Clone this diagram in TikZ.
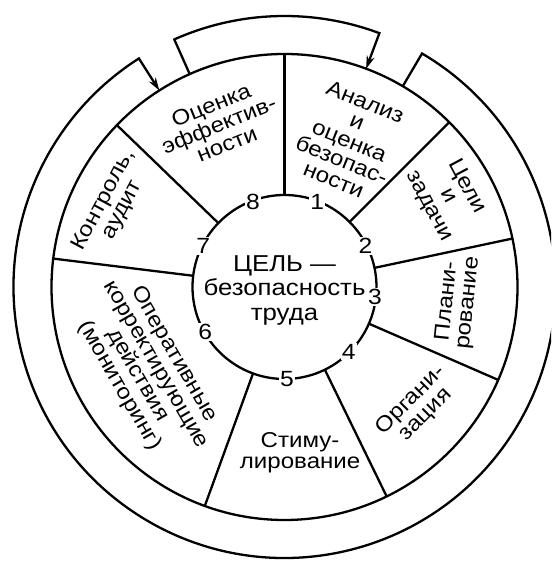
\documentclass[tikz,border=0pt]{standalone}
\usepackage{fontspec}
\setmainfont[FakeStretch=1.12]{Liberation Sans}
\usetikzlibrary{arrows.meta}
\begin{document}
\begin{tikzpicture}[x=1pt,y=1pt,
  ln/.style={line width=2.3pt},
  lbl/.style={align=center,inner sep=0pt,font=\fontsize{21.5}{21}\selectfont},
  num/.style={fill=white,inner sep=1.2pt,font=\fontsize{22}{22}\selectfont},
  arr/.style={ln,-{Stealth[length=13pt,width=8pt]}}]
\useasboundingbox (0,0) rectangle (551,561);
\clip (0,0) rectangle (551,561);
\coordinate (c) at (284.5,274);
\begin{scope}[shift={(c)}]
  % middle (sector) circle and inner circle
  \draw[ln] (0,0) circle[radius=233];
  \draw[ln] (0,0) circle[radius=92];
  % sector dividers
  \foreach \a in {90,45,12,-23.5,-64,-110,173,136}
    \draw[ln] (\a:92) -- (\a:233);
  % big band with arrow into sector 8
  \draw[arr] (59.5:233) -- (59.5:271) arc[start angle=59.5,end angle=-237.5,radius=271] -- (122.5:233);
  % top band with arrow into sector 1
  \draw[arr] (114:233) -- (114:271) arc[start angle=114,end angle=69.5,radius=271] -- (69.5:233);
  % numbers
  \node[num] (n1) at (68.9:91) {1};
  \node[num] (n2) at (27:91) {2};
  \node[num] (n3) at (-6.2:91) {3};
  \node[num] (n4) at (-45.2:91) {4};
  \node[num] (n5) at (-88.5:92) {5};
  \node[num] (n6) at (209.5:91) {6};
  \node[num] (n7) at (153.3:91) {7};
  \node[num] (n8) at (110.3:91) {8};
  % center
  \node[align=center,inner sep=0pt,font=\fontsize{23}{24.5}\selectfont] (goal) at (0,-3) {ЦЕЛЬ —\\безопасность\\труда};
  % sector labels
  \node[lbl,rotate=22] (s8) at (112:175) {Оценка\\эффектив-\\ности};
  \node[lbl,rotate=-22] (s1) at (66:160) {Анализ\\и\\оценка\\безопас-\\ности};
  \node[lbl,rotate=-62] (s2) at (29:187) {Цели\\и\\задачи};
  \node[lbl,rotate=84] (s3) at (-5:174) {Плани-\\рование};
  \node[lbl,rotate=45] (s4) at (-42:180) {Органи-\\зация};
  \node[lbl] (s5) at (-84.6:166) {Стиму-\\лирование};
  \node[lbl,rotate=-60] (s6) at (211:161) {Оперативные\\корректирующие\\действия\\(мониторинг)};
  \node[lbl,rotate=62] (s7) at (154.5:190) {Контроль,\\аудит};
\end{scope}
\end{tikzpicture}
\end{document}
